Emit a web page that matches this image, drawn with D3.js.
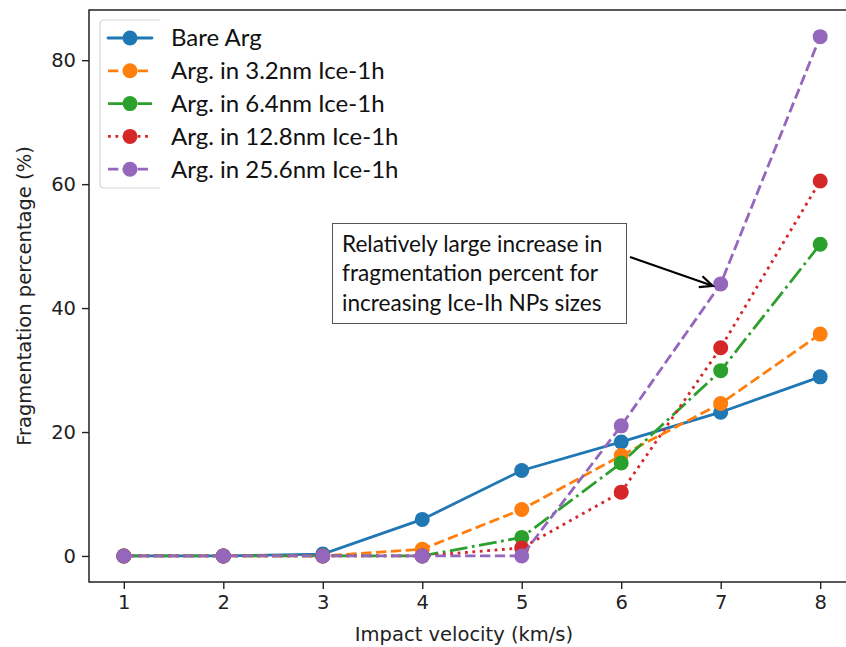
<!DOCTYPE html>
<html>
<head>
<meta charset="utf-8">
<script src="https://cdn.jsdelivr.net/npm/d3@7"></script>
<style>
  body { margin: 0; background: #fff; }
  svg { display: block; }
</style>
</head>
<body>
<svg width="846" height="647"></svg>
<script>
// Data
const velocities = [1, 2, 3, 4, 5, 6, 7, 8];
const seriesNames = [
    "Bare Arg",
    "Arg. in 3.2nm Ice-1h",
    "Arg. in 6.4nm Ice-1h",
    "Arg. in 12.8nm Ice-1h",
    "Arg. in 25.6nm Ice-1h"
];
const bareArg = [0, 0, 0.3, 5.9, 13.8, 18.4, 23.2, 28.9];
const ice32 = [0, 0, 0, 1.1, 7.5, 16.2, 24.6, 35.8];
const ice64 = [0, 0, 0, 0, 3.0, 15.0, 29.9, 50.3];
const ice128 = [0, 0, 0, 0, 1.3, 10.3, 33.6, 60.5];
const ice256 = [0, 0, 0, 0, 0, 21.0, 43.9, 83.8];
const yTicks = [0, 20, 40, 60, 80];
const annotationLines = [
    "Relatively large increase in",
    "fragmentation percent for",
    "increasing Ice-Ih NPs sizes"
];

const colors = ["#1f77b4", "#ff7f0e", "#2ca02c", "#d62728", "#9467bd"];
const lw = 2.8;
const dashes = ["none", `${3.7*lw},${1.6*lw}`, `${6.4*lw},${1.6*lw},${1*lw},${1.6*lw}`,
                `${1*lw},${1.65*lw}`, `${3.7*lw},${1.6*lw}`];
const caps = ["round", "butt", "butt", "butt", "butt"];

const series = [bareArg, ice32, ice64, ice128, ice256].map((vals, i) => ({
    name: seriesNames[i],
    values: vals.map((v, j) => ({ x: velocities[j], y: v }))
}));

const svg = d3.select("svg");
const margin = { left: 89, top: 10, bottom: 582 };

// matplotlib-like 5% margins
const x = d3.scaleLinear().domain([0.65, 8.35]).range([margin.left, 855]);
const y = d3.scaleLinear().domain([-4.2, 88.1]).range([margin.bottom, margin.top]);

const tickFont = "DejaVu Sans, sans-serif";
const textFont = "Lato, 'Open Sans', sans-serif";

// Axes
const xAxis = svg.append("g")
    .attr("transform", `translate(0, ${margin.bottom})`)
    .call(d3.axisBottom(x).tickValues(velocities).tickSize(7).tickPadding(6).tickFormat(d3.format("d")));
const yAxis = svg.append("g")
    .attr("transform", `translate(${margin.left}, 0)`)
    .call(d3.axisLeft(y).tickValues(yTicks).tickSize(7).tickPadding(6));

[xAxis, yAxis].forEach(a => {
    a.select(".domain").remove();
    a.selectAll(".tick line").attr("stroke", "#222").attr("stroke-width", 1.4);
    a.selectAll(".tick text").attr("font-family", tickFont).attr("font-size", 19.5).attr("fill", "#222");
});

// Spines (right one falls outside the picture)
svg.append("path")
    .attr("d", `M${x.range()[1]},${margin.top}H${margin.left}V${margin.bottom}H${x.range()[1]}`)
    .attr("fill", "none")
    .attr("stroke", "#222")
    .attr("stroke-width", 1.5);

// Axis labels
svg.append("text")
    .attr("x", 464).attr("y", 641)
    .attr("text-anchor", "middle")
    .attr("font-family", tickFont).attr("font-size", 19.5).attr("fill", "#222")
    .text("Impact velocity (km/s)");
svg.append("text")
    .attr("transform", `translate(31, ${(margin.top + margin.bottom) / 2}) rotate(-90)`)
    .attr("text-anchor", "middle")
    .attr("font-family", tickFont).attr("font-size", 19.5).attr("fill", "#222")
    .text("Fragmentation percentage (%)");

// Lines and markers
const line = d3.line().x(d => x(d.x)).y(d => y(d.y));
series.forEach((s, i) => {
    const g = svg.append("g");
    g.append("path")
        .datum(s.values)
        .attr("d", line)
        .attr("fill", "none")
        .attr("stroke", colors[i])
        .attr("stroke-width", lw)
        .attr("stroke-dasharray", dashes[i])
        .attr("stroke-linecap", caps[i]);
    g.selectAll("circle")
        .data(s.values)
        .enter().append("circle")
        .attr("cx", d => x(d.x))
        .attr("cy", d => y(d.y))
        .attr("r", 7.5)
        .attr("fill", colors[i]);
});

// Legend (frame is partly hidden in the reference)
const legend = svg.append("g");
legend.append("path")
    .attr("d", "M160,20H104Q100,20 100,24V184Q100,188 104,188H160")
    .attr("fill", "none")
    .attr("stroke", "#d6d6d6")
    .attr("stroke-width", 1.2);
seriesNames.forEach((name, i) => {
    const cy = 38 + i * 32.8;
    legend.append("line")
        .attr("x1", 108).attr("x2", 152)
        .attr("y1", cy).attr("y2", cy)
        .attr("stroke", colors[i])
        .attr("stroke-width", lw)
        .attr("stroke-dasharray", dashes[i])
        .attr("stroke-linecap", caps[i]);
    legend.append("circle")
        .attr("cx", 130).attr("cy", cy).attr("r", 7.5)
        .attr("fill", colors[i]);
    legend.append("text")
        .attr("x", 171).attr("y", cy)
        .attr("dy", "0.35em")
        .attr("font-family", textFont).attr("font-size", 24)
        .attr("fill", "#111")
        .text(name);
});

// Annotation box and arrow
const note = svg.append("g");
note.append("rect")
    .attr("x", 332.5).attr("y", 223.5)
    .attr("width", 294).attr("height", 100)
    .attr("fill", "#fff")
    .attr("stroke", "#555")
    .attr("stroke-width", 1);
annotationLines.forEach((t, i) => {
    note.append("text")
        .attr("x", 342).attr("y", 244 + i * 29.5)
        .attr("dy", "0.35em")
        .attr("font-family", textFont).attr("font-size", 22.6)
        .attr("fill", "#111")
        .text(t);
});

const tipX = x(7) - 8, tipY = y(43.9) + 2;
const startX = 630, startY = 257;
const ang = Math.atan2(tipY - startY, tipX - startX);
note.append("line")
    .attr("x1", startX).attr("y1", startY)
    .attr("x2", tipX - 1 * Math.cos(ang)).attr("y2", tipY - 1 * Math.sin(ang))
    .attr("stroke", "#000").attr("stroke-width", 2.2);
const head = 14, spread = 0.42;
note.append("path")
    .attr("d", `M${tipX - head * Math.cos(ang - spread)},${tipY - head * Math.sin(ang - spread)}` +
               `L${tipX},${tipY}` +
               `L${tipX - head * Math.cos(ang + spread)},${tipY - head * Math.sin(ang + spread)}`)
    .attr("fill", "none")
    .attr("stroke", "#000")
    .attr("stroke-width", 2.2);
</script>
</body>
</html>
